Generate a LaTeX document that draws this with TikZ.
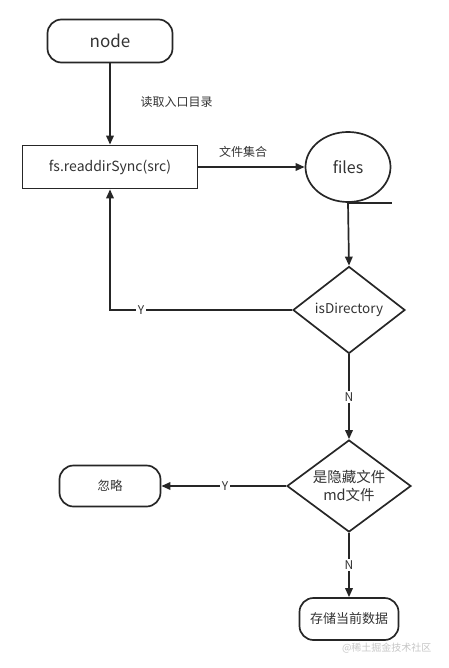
\documentclass[tikz,border=0pt]{standalone}
\usepackage{fontspec}
\setmainfont{Noto Sans CJK SC}
\usetikzlibrary{shapes.geometric,arrows.meta}
\definecolor{ink}{HTML}{262626}
\definecolor{txt}{HTML}{333333}
\tikzset{
  every node/.style={text=txt},
  base/.style={draw=ink, line width=1.7pt, align=center, inner sep=0pt},
  term/.style={base, rounded corners=14pt},
  proc/.style={base},
  dec/.style={base, diamond, aspect=1.28},
  conn/.style={draw=ink, line width=1.7pt, -{Triangle[length=9pt,width=7.5pt]}},
  plain/.style={draw=ink, line width=1.7pt},
  lbl/.style={fill=white, inner sep=1.5pt, font=\fontsize{12}{14}\selectfont},
}
\begin{document}
\begin{tikzpicture}[x=1pt,y=-1pt]
\useasboundingbox (0,0) rectangle (448,668);
\node[term, minimum width=125pt, minimum height=43pt, font=\fontsize{17}{20}\selectfont] (node) at (110,41) {node};
\node[proc, minimum width=175pt, minimum height=43pt, font=\fontsize{14}{17}\selectfont] (fs) at (110,167) {fs.readdirSync(src)};
\node[base, ellipse, minimum width=85pt, minimum height=70pt, font=\fontsize{16}{19}\selectfont] (files) at (348,167) {files};
\draw[plain] (files.south) -- ++(44,0);
\node[dec, minimum width=112pt, minimum height=87pt, font=\fontsize{13.5}{16}\selectfont] (isdir) at (349,310) {isDirectory};
\node[dec, minimum width=124pt, minimum height=92pt, font=\fontsize{14.5}{18}\selectfont] (hid) at (349,486) {是隐藏文件\\md文件};
\node[term, minimum width=101pt, minimum height=41pt, font=\fontsize{12.5}{15}\selectfont] (ign) at (110,486) {忽略};
\node[term, minimum width=99pt, minimum height=42pt, font=\fontsize{13}{16}\selectfont] (save) at (349,619) {存储当前数据};
\node[text=gray!45, font=\fontsize{10}{12}\selectfont, anchor=east] (wm) at (435,648) {@稀土掘金技术社区};

\draw[conn] (node) -- (fs);
\node[font=\fontsize{12}{14}\selectfont, anchor=west] (l1) at (137,102) {读取入口目录};
\draw[conn] (fs) -- (files);
\node[font=\fontsize{12}{14}\selectfont] (l2) at (243,152) {文件集合};
\draw[conn] (files.south) -- (isdir.north);
\draw[conn] (isdir.west) -- (fs.south |- isdir.west) -- (fs.south)
  node[lbl, pos=0.0, xshift=31pt] (y1) {Y};
\draw[conn] (isdir.south) -- (hid.north) node[lbl, midway] (n1) {N};
\draw[conn] (hid.west) -- (ign.east) node[lbl, pos=0.49] (y2) {Y};
\draw[conn] (hid.south) -- (save.north) node[lbl, pos=0.5] (n2) {N};
\end{tikzpicture}
\end{document}
